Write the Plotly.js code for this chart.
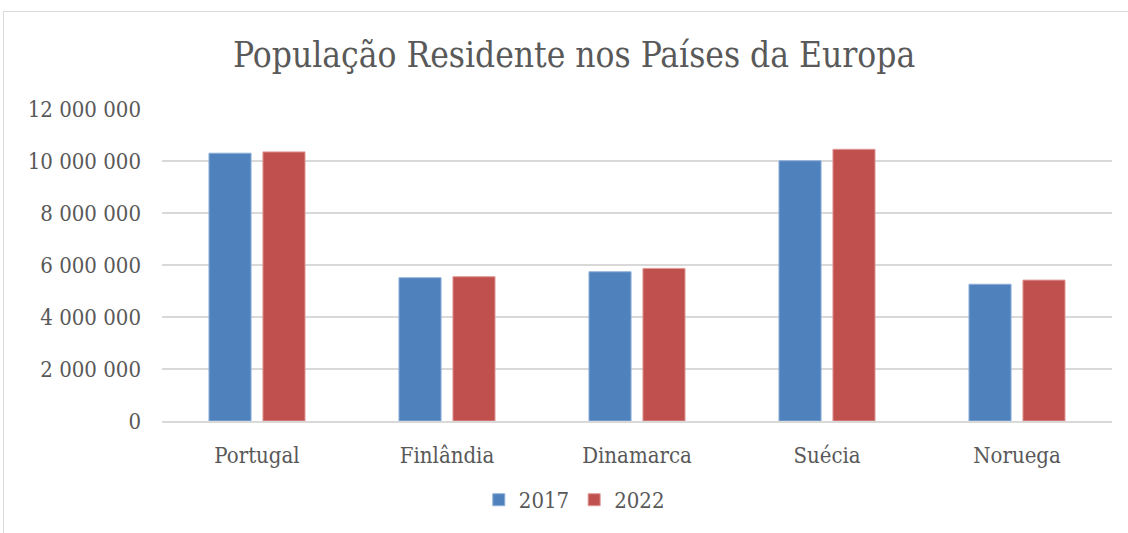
<!DOCTYPE html>
<html>
<head>
<meta charset="utf-8">
<script src="https://cdn.plot.ly/plotly-3.0.1.min.js"></script>
<style>
html,body{margin:0;padding:0;background:#fff;}
#chart{position:absolute;left:0;top:0;width:1128px;height:533px;}
#frame{position:absolute;left:3px;top:11px;width:1140px;height:540px;border-left:1.5px solid #d9d9d9;border-top:1.5px solid #d9d9d9;pointer-events:none;}
</style>
</head>
<body>
<div id="chart"></div>
<div id="frame"></div>
<script>
const categories = ["Portugal", "Finlândia", "Dinamarca", "Suécia", "Noruega"];
const pop2017 = [10300000, 5510000, 5740000, 10010000, 5260000];
const pop2022 = [10350000, 5550000, 5870000, 10450000, 5420000];
const seriesNames = ["2017", "2022"];
const yTicks = [0, 2000000, 4000000, 6000000, 8000000, 10000000, 12000000];

const FONT = "'DejaVu Serif Condensed', 'DejaVu Serif', serif";
const TXT = "#595959";

const traces = [
  {type: "bar", name: seriesNames[0], x: categories, y: pop2017,
   marker: {color: "#4f81bd", line: {color: "#8fb0d8", width: 1}}},
  {type: "bar", name: seriesNames[1], x: categories, y: pop2022,
   marker: {color: "#c0504d", line: {color: "#e09a98", width: 1}}}
];

const layout = {
  width: 1128, height: 533,
  margin: {l: 162, r: 16, t: 109, b: 112},
  paper_bgcolor: "#fff", plot_bgcolor: "#fff",
  separators: ", ",
  font: {family: FONT, color: TXT, size: 22},
  title: {text: "População Residente nos Países da Europa", x: 0.509, xanchor: "center",
          y: 0.897, yanchor: "middle", yref: "container",
          font: {family: FONT, size: 35, color: TXT}},
  barmode: "group", bargap: 0.432, bargroupgap: 0.22,
  xaxis: {showgrid: false, showline: true, linecolor: "#d9d9d9", linewidth: 1.5,
          ticks: "", ticklabelstandoff: 14, tickfont: {size: 22, color: TXT, family: FONT}},
  yaxis: {range: [0, 12000000], tickvals: yTicks, tickformat: ",d",
          showgrid: true, gridcolor: "#d9d9d9", gridwidth: 1.5, zeroline: false,
          showline: false, ticks: "", ticklabelstandoff: 20,
          tickfont: {size: 22, color: TXT, family: FONT}},
  showlegend: true,
  legend: {orientation: "h", x: 0.434, xanchor: "center", y: -0.253, yanchor: "middle",
           font: {size: 22, color: TXT, family: FONT}, itemwidth: 30, traceorder: "normal"}
};

Plotly.newPlot("chart", traces, layout, {displayModeBar: false, staticPlot: true});
</script>
</body>
</html>
